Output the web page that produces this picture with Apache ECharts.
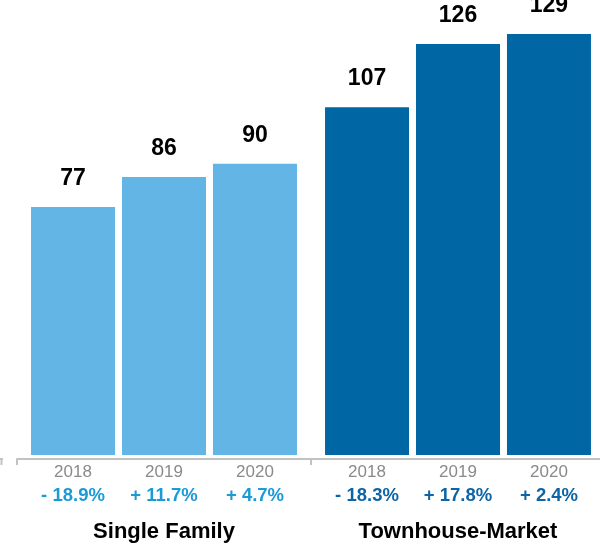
<!DOCTYPE html>
<html>
<head>
<meta charset="utf-8">
<script src="https://cdn.jsdelivr.net/npm/echarts@6/dist/echarts.min.js"></script>
<style>html,body{margin:0;padding:0;background:#fff;}#c{width:600px;height:546px;}</style>
</head>
<body>
<div id="c"></div>
<script>
const categories = ['Single Family', 'Townhouse-Market'];
const years = ['2018', '2019', '2020'];
const values2018 = [77, 107];
const values2019 = [86, 126];
const values2020 = [90, 129];
const changesSingleFamily = ['- 18.9%', '+ 11.7%', '+ 4.7%'];
const changesTownhouse = ['- 18.3%', '+ 17.8%', '+ 2.4%'];

const seriesValues = [values2018, values2019, values2020];
const changes = [changesSingleFamily, changesTownhouse];
const barColors = ['#62b5e5', '#0066a4'];
const font = 'Liberation Sans, Arial, Helvetica, sans-serif';

const chart = echarts.init(document.getElementById('c'));
chart.setOption({
  animation: false,
  textStyle: { fontFamily: font },
  grid: { left: 17, width: 588, top: 34, bottom: 91, containLabel: false, outerBoundsMode: 'none' },
  xAxis: {
    type: 'category',
    data: categories,
    offset: 4,
    axisLine: { show: true, lineStyle: { color: '#c2c2c2', width: 2 } },
    axisTick: { show: true, length: 6, lineStyle: { color: '#c2c2c2', width: 2 } },
    axisLabel: {
      interval: 0,
      margin: 2,
      formatter: function (value, idx) {
        const pStyle = idx === 0 ? 'pl' : 'pd';
        const line1 = years.map(y => '{y|' + y + '}').join('');
        const line2 = changes[idx].map(c => '{' + pStyle + '|' + c + '}').join('');
        return line1 + '\n' + line2 + '\n{t|' + value + '}';
      },
      rich: {
        y: { width: 91, align: 'center', fontSize: 17, color: '#8a8a8a', lineHeight: 22, fontFamily: font },
        pl: { width: 91, align: 'center', fontSize: 18.5, fontWeight: 'bold', color: '#1b9ad8', lineHeight: 26, fontFamily: font },
        pd: { width: 91, align: 'center', fontSize: 18.5, fontWeight: 'bold', color: '#0e65a6', lineHeight: 26, fontFamily: font },
        t: { fontSize: 22, fontWeight: 'bold', color: '#000', lineHeight: 46, fontFamily: font }
      }
    }
  },
  yAxis: { type: 'value', show: false, min: 2.5, max: 129 },
  series: seriesValues.map((vals, i) => ({
    name: years[i],
    type: 'bar',
    barWidth: 84,
    barGap: '8.3%',
    data: vals.map((v, j) => ({ value: v, itemStyle: { color: barColors[j] } })),
    label: {
      show: true,
      position: 'top',
      distance: 17,
      fontSize: 23,
      fontWeight: 'bold',
      color: '#000',
      fontFamily: font
    }
  })),
  graphic: [
    { type: 'polyline', shape: { points: [[0, 459], [3, 459]] }, style: { stroke: '#c2c2c2', lineWidth: 2 } },
    { type: 'line', shape: { x1: 1.5, y1: 459, x2: 1.5, y2: 465 }, style: { stroke: '#c2c2c2', lineWidth: 2 } }
  ]
});
</script>
</body>
</html>
